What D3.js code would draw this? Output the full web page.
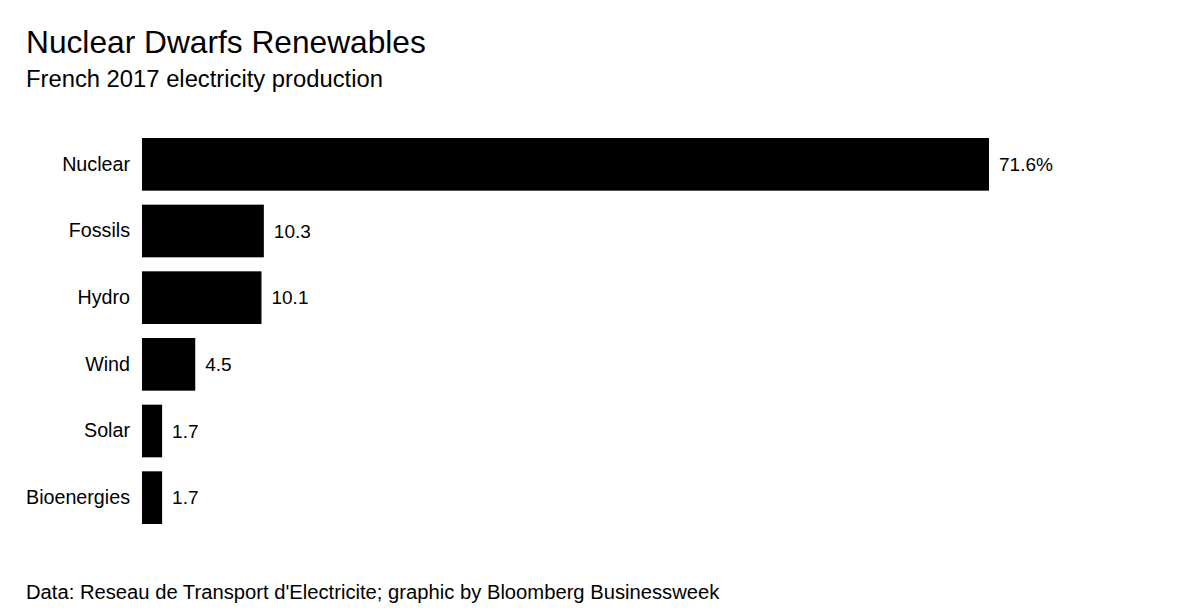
<!DOCTYPE html>
<html>
<head>
<meta charset="utf-8">
<script src="https://cdn.jsdelivr.net/npm/d3@7"></script>
<style>
  html, body { margin: 0; padding: 0; background: #fff; }
  svg { display: block; font-family: "Liberation Sans", Arial, Helvetica, sans-serif; }
</style>
</head>
<body>
<svg id="chart" width="1200" height="616"></svg>
<script>
// ---- data ----
const categories = ["Nuclear", "Fossils", "Hydro", "Wind", "Solar", "Bioenergies"];
const values = [71.6, 10.3, 10.1, 4.5, 1.7, 1.7];
const valueLabels = ["71.6%", "10.3", "10.1", "4.5", "1.7", "1.7"];
const title = "Nuclear Dwarfs Renewables";
const subtitle = "French 2017 electricity production";
const source = "Data: Reseau de Transport d'Electricite; graphic by Bloomberg Businessweek";

const svg = d3.select("#chart");

const x = d3.scaleLinear().domain([0, 71.6]).range([142, 989]);
const y = d3.scaleBand().domain(categories).range([131, 531])
  .paddingInner(0.21).paddingOuter(0.105);

// helper: fit a text element to a target width by adjusting font-size
function fitWidth(sel, target) {
  const node = sel.node();
  const w = node.getComputedTextLength();
  const fs = parseFloat(sel.attr("font-size"));
  sel.attr("font-size", (fs * target / w).toFixed(2));
}

// title / subtitle
const t = svg.append("text").attr("x", 26).attr("y", 53)
  .attr("font-size", 31).attr("fill", "#000").text(title);
fitWidth(t, 400);
const st = svg.append("text").attr("x", 26).attr("y", 87)
  .attr("font-size", 22).attr("fill", "#000").text(subtitle);
fitWidth(st, 357);

// bars
svg.append("g").selectAll("rect")
  .data(categories)
  .join("rect")
  .attr("x", x(0))
  .attr("y", d => y(d))
  .attr("width", (d, i) => x(values[i]) - x(0))
  .attr("height", y.bandwidth())
  .attr("fill", "#000");

// category axis (labels only)
const yAxis = d3.axisLeft(y).tickSize(0).tickPadding(12);
const ag = svg.append("g").attr("transform", `translate(${x(0)},0)`).call(yAxis);
ag.select(".domain").remove();
ag.selectAll("text")
  .attr("font-size", 19.7)
  .attr("font-family", "Liberation Sans, Arial, sans-serif")
  .attr("fill", "#000");

// value labels
svg.append("g").selectAll("text")
  .data(categories)
  .join("text")
  .attr("x", (d, i) => x(values[i]) + 10)
  .attr("y", d => y(d) + y.bandwidth() / 2)
  .attr("dy", "0.35em")
  .attr("font-size", 19)
  .attr("fill", "#000")
  .text((d, i) => valueLabels[i]);

// source
const src = svg.append("text").attr("x", 26).attr("y", 599)
  .attr("font-size", 18).attr("fill", "#000").text(source);
fitWidth(src, 694);
</script>
</body>
</html>
